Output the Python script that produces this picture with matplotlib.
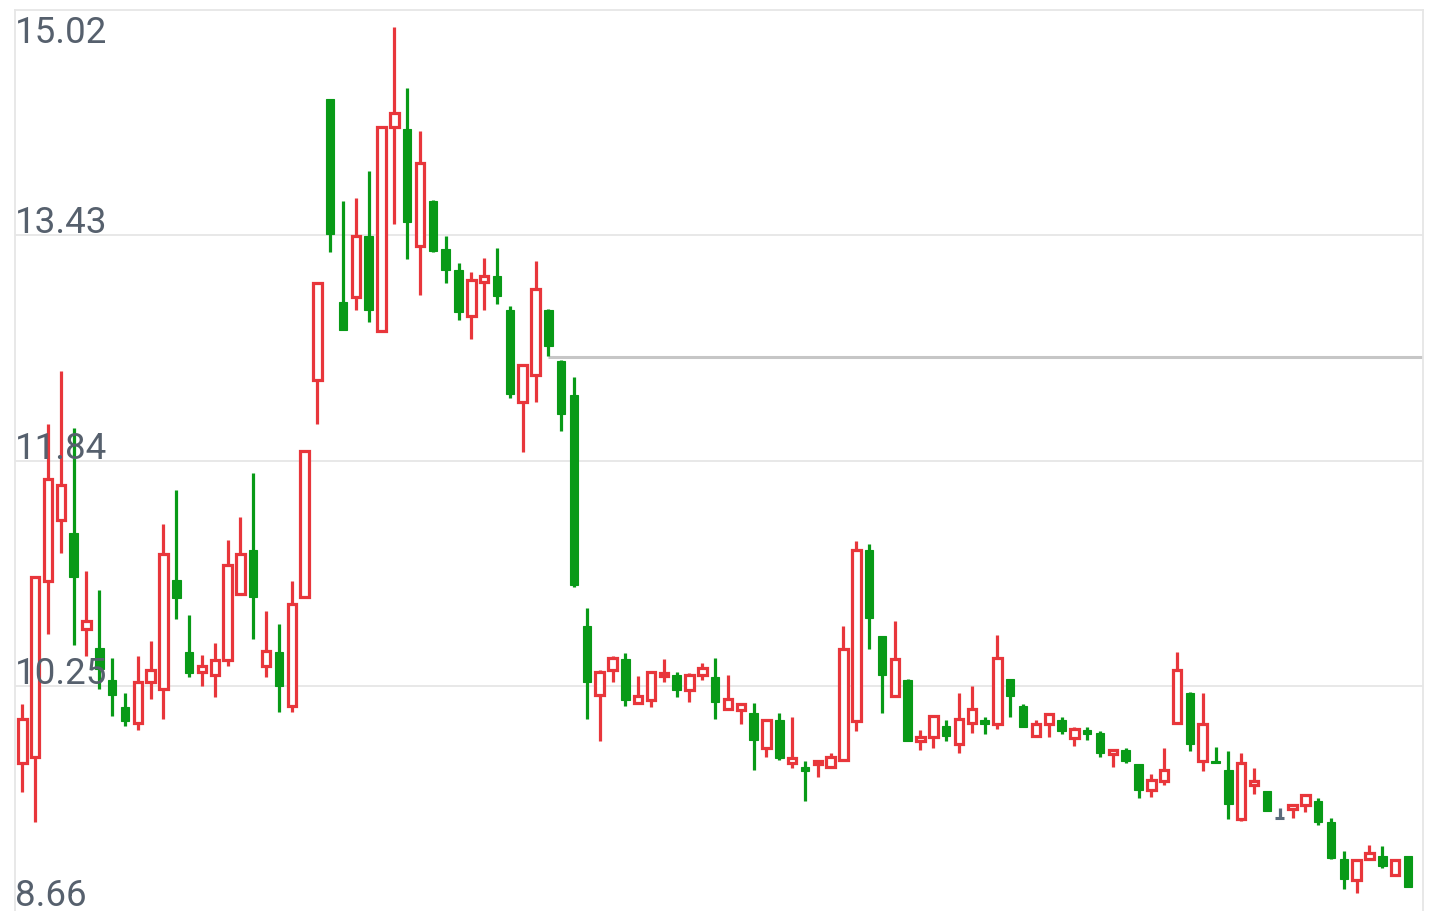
import matplotlib
matplotlib.use('Agg')
import matplotlib.pyplot as plt
from matplotlib.patches import Rectangle
from matplotlib.collections import LineCollection
import matplotlib.transforms as mtransforms

# ---- data ----
opens = [9.71, 9.75, 10.99, 11.42, 11.33, 10.65, 10.52, 10.29, 10.10, 9.99,
         10.28, 10.23, 11.00, 10.49, 10.35, 10.33, 10.43, 10.90, 11.21, 10.39,
         10.49, 10.11, 10.88, 12.41, 14.39, 12.96, 12.99, 13.42, 12.75, 14.19,
         14.18, 13.35, 13.67, 13.33, 13.18, 12.86, 13.10, 13.14, 12.90, 12.25,
         12.44, 12.90, 12.54, 12.30, 10.67, 10.19, 10.36, 10.44, 10.13, 10.15,
         10.32, 10.33, 10.22, 10.33, 10.31, 10.09, 10.08, 10.06, 9.81, 10.01,
         9.71, 9.68, 9.70, 9.68, 9.73, 10.00, 11.21, 10.60, 10.18, 10.29,
         9.86, 9.89, 9.97, 9.84, 9.99, 10.01, 9.98, 10.30, 10.11, 9.90,
         9.98, 10.01, 9.88, 9.94, 9.92, 9.77, 9.80, 9.70, 9.52, 9.58,
         9.99, 10.20, 9.72, 9.72, 9.66, 9.31, 9.55, 9.51, 9.32, 9.38,
         9.41, 9.44, 9.29, 9.03, 8.88, 9.03, 9.05, 8.92, 9.05]
highs = [10.12, 11.02, 12.10, 12.47, 12.07, 11.06, 10.93, 10.45, 10.20, 10.46,
         10.57, 11.39, 11.63, 10.75, 10.47, 10.55, 11.28, 11.44, 11.75, 10.78,
         10.69, 10.99, 11.91, 13.09, 14.39, 13.67, 13.69, 13.88, 14.19, 14.90,
         14.47, 14.16, 13.68, 13.42, 13.23, 13.17, 13.27, 13.34, 12.93, 12.51,
         13.25, 12.91, 12.55, 12.43, 10.80, 10.36, 10.46, 10.48, 10.32, 10.35,
         10.44, 10.35, 10.34, 10.41, 10.45, 10.33, 10.12, 10.13, 10.01, 10.06,
         10.03, 9.72, 9.73, 9.78, 10.67, 11.27, 11.25, 10.60, 10.71, 10.30,
         9.94, 10.04, 10.01, 10.20, 10.25, 10.03, 10.61, 10.30, 10.12, 10.01,
         10.05, 10.03, 9.96, 9.96, 9.93, 9.80, 9.81, 9.70, 9.63, 9.81,
         10.49, 10.21, 10.20, 9.82, 9.79, 9.78, 9.67, 9.51, 9.39, 9.41,
         9.48, 9.46, 9.32, 9.09, 9.02, 9.13, 9.12, 9.02, 9.05]
lows = [9.50, 9.29, 10.62, 11.19, 10.54, 10.46, 10.23, 10.04, 9.97, 9.94,
        10.16, 10.02, 10.72, 10.31, 10.25, 10.17, 10.39, 10.90, 10.58, 10.31,
        10.07, 10.07, 10.88, 12.10, 13.31, 12.76, 12.90, 12.82, 12.75, 13.51,
        13.26, 13.01, 13.31, 13.09, 12.83, 12.70, 12.90, 12.94, 12.28, 11.90,
        12.25, 12.58, 12.05, 10.95, 10.02, 9.86, 10.28, 10.11, 10.12, 10.10,
        10.28, 10.17, 10.14, 10.29, 10.02, 10.09, 9.98, 9.66, 9.75, 9.73,
        9.67, 9.44, 9.61, 9.68, 9.72, 9.93, 10.51, 10.06, 10.18, 9.86,
        9.80, 9.81, 9.86, 9.78, 9.92, 9.91, 9.95, 10.03, 9.96, 9.89,
        9.89, 9.91, 9.83, 9.87, 9.75, 9.68, 9.71, 9.46, 9.47, 9.55,
        9.98, 9.79, 9.65, 9.71, 9.31, 9.30, 9.49, 9.37, 9.32, 9.32,
        9.36, 9.27, 9.03, 8.82, 8.79, 9.03, 8.97, 8.91, 8.83]
closes = [10.02, 11.02, 11.71, 11.67, 11.02, 10.71, 10.37, 10.19, 10.00, 10.28,
          10.36, 11.18, 10.87, 10.34, 10.39, 10.43, 11.10, 11.18, 10.88, 10.50,
          10.25, 10.83, 11.91, 13.09, 13.44, 12.76, 13.42, 12.90, 14.19, 14.29,
          13.52, 13.94, 13.32, 13.18, 12.89, 13.11, 13.14, 13.00, 12.31, 12.51,
          13.05, 12.65, 12.17, 10.96, 10.28, 10.35, 10.45, 10.15, 10.18, 10.35,
          10.34, 10.22, 10.33, 10.38, 10.14, 10.16, 10.12, 9.87, 10.01, 9.74,
          9.74, 9.65, 9.72, 9.75, 10.51, 11.21, 10.73, 10.33, 10.44, 9.86,
          9.89, 10.04, 9.90, 10.02, 10.09, 9.98, 10.45, 10.18, 9.96, 9.98,
          10.05, 9.93, 9.95, 9.91, 9.78, 9.80, 9.72, 9.52, 9.59, 9.66,
          10.36, 9.84, 9.98, 9.71, 9.42, 9.71, 9.58, 9.37, 9.32, 9.41,
          9.48, 9.29, 9.04, 8.89, 9.02, 9.07, 8.98, 9.02, 8.83]
y_ticks = [15.02, 13.43, 11.84, 10.25, 8.66]
y_tick_labels = ['15.02', '13.43', '11.84', '10.25', '8.66']
ref_level = 12.57
ref_start = 41

RED = '#e8363b'
GREEN = '#089a17'
FLAT = '#5b6b7b'
LABEL = '#56606d'

fig = plt.figure(figsize=(14.4, 9.12), dpi=100)
fig.patch.set_facecolor('white')
ax = fig.add_axes([15 / 1440, -0.5 / 912, 1408 / 1440, 902 / 912])
n = len(opens)
ax.set_xlim(-0.57, n + 0.17)
ax.set_ylim(y_ticks[-1], y_ticks[0])
ax.set_xticks([])
ax.set_yticks([])
for side in ['left', 'top', 'right']:
    ax.spines[side].set_color('#e6e6e6')
    ax.spines[side].set_linewidth(1.3)
ax.spines['bottom'].set_visible(False)

for v in y_ticks[1:-1]:
    ax.axhline(v, color='#e2e2e2', lw=1.1, zorder=1)

ax.plot([ref_start, n + 0.17], [ref_level, ref_level], color='#c6c6c6',
        lw=2.2, solid_capstyle='butt', zorder=1.5)

w = 0.66
segs, cols = [], []
for i, (o, h, l, c) in enumerate(zip(opens, highs, lows, closes)):
    if c > o:
        col = RED
    elif c < o:
        col = GREEN
    else:
        col = FLAT
    segs.append([(i, min(l, o, c)), (i, max(h, o, c))])
    cols.append(col)
    lo, hi = min(o, c), max(o, c)
    if col == RED:
        r = Rectangle((i - w / 2, lo), w, hi - lo, facecolor='white',
                      edgecolor=RED, lw=2.3, zorder=3)
    elif col == GREEN:
        r = Rectangle((i - w / 2, lo), w, hi - lo, facecolor=GREEN,
                      edgecolor=GREEN, lw=0.8, zorder=3)
    else:
        r = Rectangle((i - w / 2, lo), w, 0, facecolor=FLAT,
                      edgecolor=FLAT, lw=2.2, zorder=3)
    ax.add_patch(r)
ax.add_collection(LineCollection(segs, colors=cols, linewidths=2.3,
                                 capstyle='butt', zorder=2))

trans = mtransforms.blended_transform_factory(ax.transAxes, ax.transData)
for k, (v, lab) in enumerate(zip(y_ticks, y_tick_labels)):
    if k == 0:
        dy = -32.8
    elif k == len(y_ticks) - 1:
        dy = 6.5
    else:
        dy = 2.5
    t = mtransforms.offset_copy(trans, fig=fig, x=0, y=dy, units='dots')
    ax.text(0, v, lab, transform=t, ha='left', va='baseline',
            fontsize=26.5, color=LABEL, family=['Roboto', 'DejaVu Sans'],
            zorder=5)

fig.savefig('out.png', dpi=100, facecolor='white')
